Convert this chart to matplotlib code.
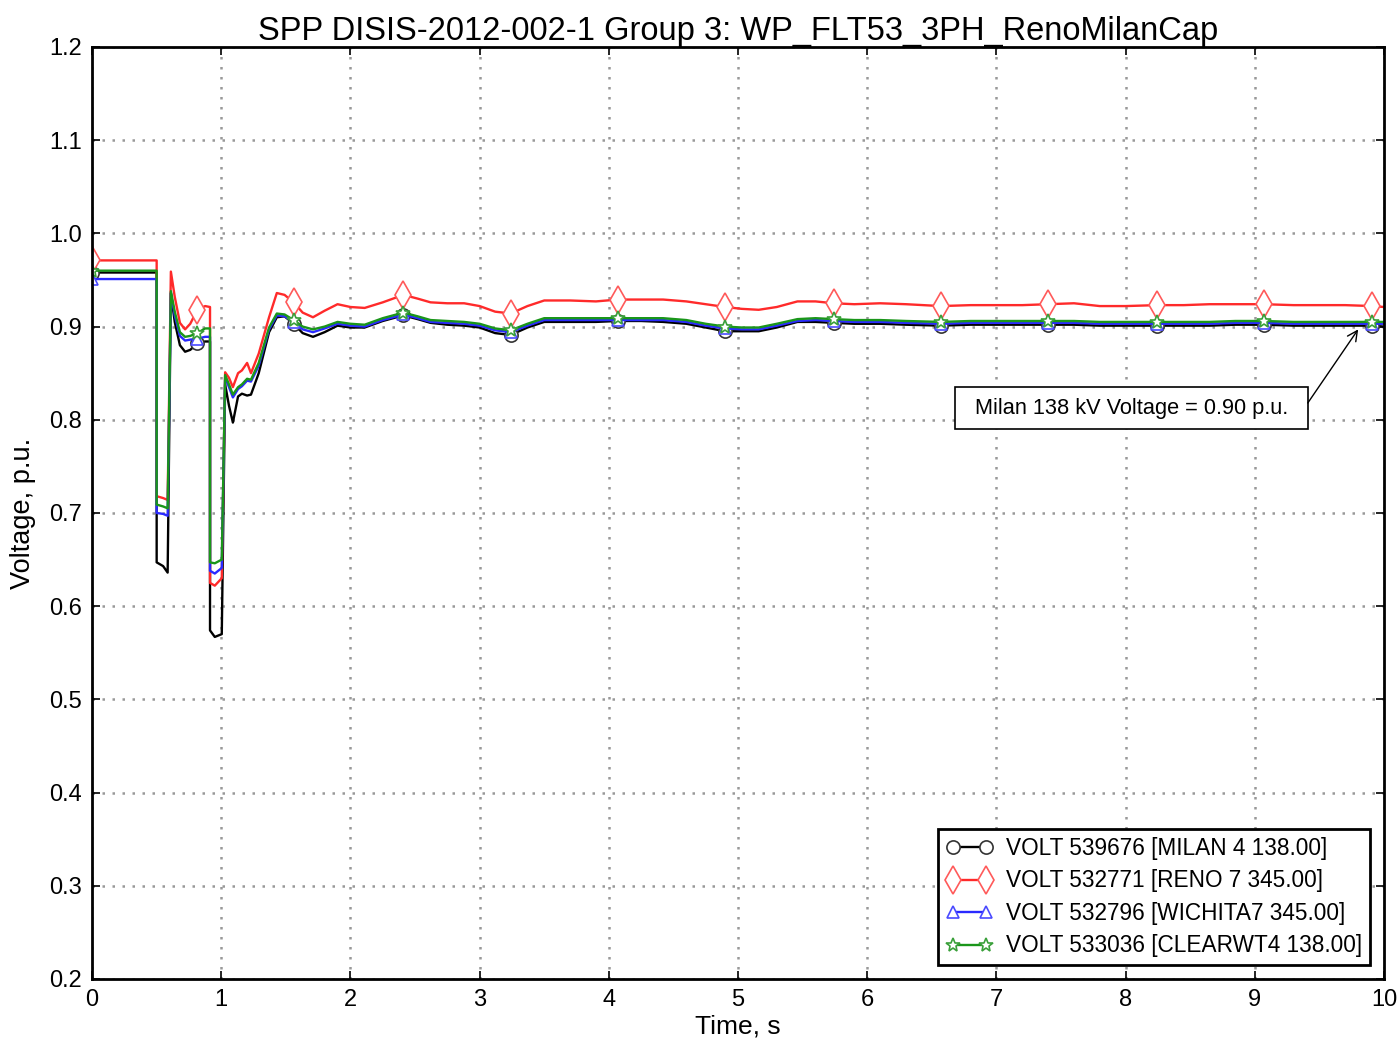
import numpy as np
import matplotlib
matplotlib.use("Agg")
import matplotlib.pyplot as plt
from matplotlib.patches import Rectangle

plt.rcParams['font.family'] = ['Liberation Sans', 'DejaVu Sans']

title = "SPP DISIS-2012-002-1 Group 3: WP_FLT53_3PH_RenoMilanCap"
labels = ["VOLT 539676 [MILAN 4 138.00]",
          "VOLT 532771 [RENO 7 345.00]",
          "VOLT 532796 [WICHITA7 345.00]",
          "VOLT 533036 [CLEARWT4 138.00]"]

time = [0, 0.5, 0.5, 0.55, 0.585, 0.61, 0.64, 0.68, 0.72, 0.76, 0.815, 0.875, 0.913, 0.913,
        0.95, 1.004, 1.03, 1.06, 1.09, 1.13, 1.16, 1.20, 1.23, 1.29, 1.37, 1.43, 1.49, 1.56,
        1.63, 1.71, 1.80, 1.90, 2.0, 2.11, 2.25, 2.41, 2.52, 2.62, 2.75, 2.88, 3.0, 3.12,
        3.24, 3.37, 3.50, 3.7, 3.9, 4.07, 4.25, 4.42, 4.6, 4.75, 4.90, 5.03, 5.16, 5.3,
        5.46, 5.6, 5.74, 5.9, 6.1, 6.3, 6.57, 6.8, 7.0, 7.2, 7.40, 7.6, 7.8, 8.0, 8.24,
        8.45, 8.65, 8.85, 9.07, 9.3, 9.5, 9.7, 9.91, 10.0]

milan = [0.958, 0.958, 0.647, 0.643, 0.636, 0.936, 0.905, 0.880, 0.873, 0.875, 0.882, 0.884, 0.884, 0.574,
         0.567, 0.570, 0.838, 0.815, 0.797, 0.825, 0.828, 0.826, 0.827, 0.850, 0.894, 0.910, 0.911, 0.903,
         0.893, 0.889, 0.894, 0.901, 0.899, 0.899, 0.906, 0.912, 0.908, 0.904, 0.902, 0.901, 0.899, 0.893,
         0.891, 0.899, 0.905, 0.905, 0.905, 0.906, 0.906, 0.905, 0.903, 0.899, 0.895, 0.895, 0.895, 0.899,
         0.905, 0.905, 0.904, 0.903, 0.903, 0.902, 0.901, 0.902, 0.902, 0.902, 0.902, 0.902, 0.901, 0.901, 0.901,
         0.901, 0.901, 0.902, 0.902, 0.901, 0.901, 0.901, 0.901, 0.900]
reno = [0.971, 0.971, 0.718, 0.716, 0.714, 0.959, 0.932, 0.904, 0.897, 0.903, 0.918, 0.922, 0.921, 0.625,
        0.622, 0.630, 0.851, 0.845, 0.835, 0.850, 0.853, 0.861, 0.850, 0.871, 0.910, 0.936, 0.934, 0.926,
        0.915, 0.910, 0.917, 0.924, 0.921, 0.920, 0.926, 0.934, 0.930, 0.926, 0.925, 0.925, 0.922, 0.916,
        0.914, 0.922, 0.928, 0.928, 0.927, 0.929, 0.929, 0.929, 0.927, 0.924, 0.921, 0.919, 0.918, 0.921,
        0.927, 0.927, 0.925, 0.924, 0.925, 0.924, 0.922, 0.923, 0.923, 0.923, 0.924, 0.925, 0.922, 0.922, 0.923,
        0.923, 0.924, 0.924, 0.924, 0.923, 0.923, 0.923, 0.922, 0.921]
wichita = [0.951, 0.951, 0.700, 0.699, 0.697, 0.936, 0.912, 0.890, 0.885, 0.886, 0.887, 0.889, 0.889, 0.638,
           0.635, 0.641, 0.846, 0.835, 0.824, 0.833, 0.836, 0.842, 0.841, 0.858, 0.897, 0.912, 0.911, 0.905,
           0.897, 0.894, 0.898, 0.903, 0.901, 0.900, 0.907, 0.913, 0.909, 0.905, 0.904, 0.903, 0.901, 0.896,
           0.894, 0.901, 0.907, 0.907, 0.907, 0.907, 0.907, 0.907, 0.905, 0.901, 0.898, 0.897, 0.897, 0.901,
           0.906, 0.907, 0.906, 0.905, 0.905, 0.904, 0.903, 0.904, 0.904, 0.904, 0.904, 0.904, 0.903, 0.903, 0.903,
           0.903, 0.903, 0.904, 0.904, 0.903, 0.903, 0.903, 0.903, 0.903]
clearwt = [0.960, 0.960, 0.709, 0.707, 0.705, 0.938, 0.916, 0.894, 0.889, 0.890, 0.893, 0.898, 0.898, 0.647,
           0.646, 0.650, 0.848, 0.838, 0.827, 0.835, 0.838, 0.844, 0.843, 0.861, 0.899, 0.914, 0.913, 0.907,
           0.900, 0.897, 0.900, 0.905, 0.903, 0.902, 0.909, 0.915, 0.911, 0.907, 0.906, 0.905, 0.903, 0.898,
           0.896, 0.903, 0.909, 0.909, 0.909, 0.909, 0.909, 0.909, 0.907, 0.903, 0.900, 0.899, 0.899, 0.903,
           0.908, 0.909, 0.908, 0.907, 0.907, 0.906, 0.905, 0.906, 0.906, 0.906, 0.906, 0.906, 0.905, 0.905, 0.905,
           0.905, 0.905, 0.906, 0.906, 0.905, 0.905, 0.905, 0.905, 0.905]

marker_times = [0, 0.815, 1.56, 2.41, 3.24, 4.07, 4.90, 5.74, 6.57, 7.40, 8.24, 9.07, 9.91]

annotation_text = "Milan 138 kV Voltage = 0.90 p.u."

t = np.array(time)
mark_idx = [int(np.argmin(np.abs(t - m))) for m in marker_times]

fig = plt.figure(figsize=(13.97, 10.44), dpi=100)
ax = fig.add_axes([0.0659, 0.0623, 0.9248, 0.8927])

series = [milan, reno, wichita, clearwt]
colors = ['black', '#ff2a2a', '#2a2aff', '#1a961a']
mecs = ['#333333', '#ff5a5a', '#4a4aff', '#3aa03a']
markers = ['o', 'd', '^', '*']
msizes = [9.5, 14, 8.5, 10.5]
for vals, c, mc, m, ms, lab in zip(series, colors, mecs, markers, msizes, labels):
    ax.plot(t, vals, color=c, lw=1.7, marker=m, ms=ms, mfc='white', mec=mc, mew=1.2,
            markevery=mark_idx, label=lab)

ax.set_xlim(0, 10)
ax.set_ylim(0.2, 1.2)
ax.set_xticks(np.arange(0, 11, 1))
ax.set_yticks(np.arange(0.2, 1.21, 0.1))
ax.set_xticklabels([str(i) for i in range(11)])
ax.set_yticklabels([f"{v:.1f}" for v in np.arange(0.2, 1.21, 0.1)])
ax.tick_params(direction='in', length=6, width=1.2, labelsize=17, top=True, right=True, pad=7)
ax.grid(True, color='0.6', linestyle=(0, (1, 3)), linewidth=1.8)
for s in ax.spines.values():
    s.set_linewidth(2)

ax.set_title(title, fontsize=23.5, pad=5)
ax.set_xlabel("Time, s", fontsize=19, labelpad=3)
ax.set_ylabel("Voltage, p.u.", fontsize=19.5, labelpad=10)

leg = ax.legend(loc='lower right', numpoints=2, fontsize=16.3, fancybox=False,
                edgecolor='black', framealpha=1, borderpad=0.35, labelspacing=0.42,
                handlelength=2.05, handletextpad=0.6, borderaxespad=0.6)
leg.get_frame().set_linewidth(2)

# annotation box and arrow
ax.add_patch(Rectangle((6.68, 0.790), 2.73, 0.045, fc='white', ec='black', lw=1.2, zorder=5))
ax.text(8.05, 0.8125, annotation_text, fontsize=15.7, ha='center', va='center', zorder=6)
ax.annotate('', xy=(9.80, 0.897), xytext=(9.41, 0.818),
            arrowprops=dict(arrowstyle='->', color='black', lw=1.0, shrinkA=0, shrinkB=0,
                            mutation_scale=18), zorder=6)

fig.savefig("out.png", dpi=100)
